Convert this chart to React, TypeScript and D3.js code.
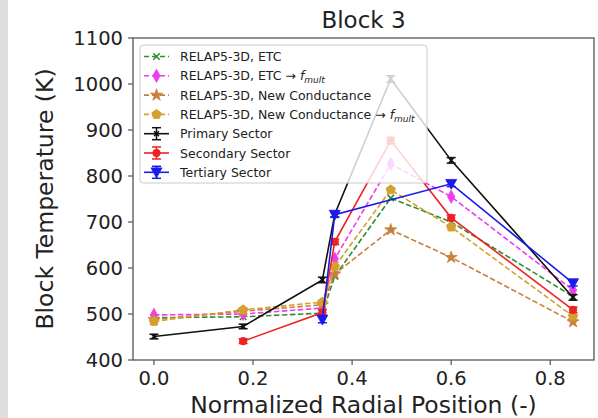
import * as d3 from 'd3'

// radial positions of the blocks (normalized)
const xPos = [0.0, 0.18, 0.34, 0.365, 0.478, 0.6, 0.846]

// RELAP5-3D variants (dashed)
const etc = [492, 494, 502, 582, 752, 700, 538]
const etcFmult = [498, 500, 513, 620, 826, 755, 552]
const newCond = [488, 506, 520, 587, 683, 623, 483]
const newCondFmult = [484, 509, 526, 603, 770, 689, 495]

// measured sectors (solid, with error bars)
const primary = [451, 473, 574, 717, 1011, 834, 536]
const primaryErr = [5, 5, 6, 6, 7, 6, 6]
const secondary = [null, 441, 503, 657, 877, 709, 509]
const secondaryErr = [0, 5, 6, 6, 7, 6, 6]
const tertiary = [null, null, 488, 716, null, 783, 567]
const tertiaryErr = [0, 0, 7, 6, 0, 6, 6]

const yTicks = [400, 500, 600, 700, 800, 900, 1000, 1100]
const xTicks = [0.0, 0.2, 0.4, 0.6, 0.8]

const W = 598
const H = 418
const m = { left: 133, right: 594, top: 38, bottom: 360 }
const FONT = 'DejaVu Sans, sans-serif'

const x = d3.scaleLinear().domain([-0.0423, 0.8883]).range([m.left, m.right])
const y = d3.scaleLinear().domain([400, 1100]).range([m.bottom, m.top])

type Marker = 'x' | 'thin_diamond' | 'star' | 'pentagon' | 'circle' | 'tri_down' | 'smallx'

function markerPath(kind: Marker, s: number): string {
  if (kind === 'star') return d3.symbol(d3.symbolStar, s * s * 0.45)()!
  if (kind === 'circle') return d3.symbol(d3.symbolCircle, s * s * 0.55)()!
  if (kind === 'tri_down') {
    const h = s * 0.5
    return `M${-h},${-h * 0.8}L${h},${-h * 0.8}L0,${h}Z`
  }
  if (kind === 'thin_diamond') {
    const h = s * 0.55
    return `M0,${-h}L${h * 0.55},0L0,${h}L${-h * 0.55},0Z`
  }
  if (kind === 'pentagon') {
    const r = s * 0.5
    const pts = d3.range(5).map((i) => {
      const a = -Math.PI / 2 + (i * 2 * Math.PI) / 5
      return [r * Math.cos(a), r * Math.sin(a)]
    })
    return 'M' + pts.map((p) => p.join(',')).join('L') + 'Z'
  }
  const h = kind === 'smallx' ? s * 0.3 : s * 0.4
  return `M${-h},${-h}L${h},${h}M${-h},${h}L${h},${-h}`
}

type Series = {
  label: string
  fmult?: boolean
  values: (number | null)[]
  err?: number[]
  color: string
  dashed: boolean
  marker: Marker
  size: number
}

const series: Series[] = [
  { label: 'RELAP5-3D, ETC', values: etc, color: '#2f8f2f', dashed: true, marker: 'x', size: 8 },
  { label: 'RELAP5-3D, ETC', fmult: true, values: etcFmult, color: '#f03cf0', dashed: true, marker: 'thin_diamond', size: 12 },
  { label: 'RELAP5-3D, New Conductance', values: newCond, color: '#c8803e', dashed: true, marker: 'star', size: 10 },
  { label: 'RELAP5-3D, New Conductance', fmult: true, values: newCondFmult, color: '#d4a030', dashed: true, marker: 'pentagon', size: 10 },
  { label: 'Primary Sector', values: primary, err: primaryErr, color: '#111111', dashed: false, marker: 'smallx', size: 8 },
  { label: 'Secondary Sector', values: secondary, err: secondaryErr, color: '#ee2222', dashed: false, marker: 'circle', size: 9 },
  { label: 'Tertiary Sector', values: tertiary, err: tertiaryErr, color: '#1a1aee', dashed: false, marker: 'tri_down', size: 11 },
]

function MarkerMark({ s, cx, cy }: { s: Series; cx: number; cy: number }) {
  const d = markerPath(s.marker, s.size)
  const stroked = s.marker === 'x' || s.marker === 'smallx'
  return (
    <path
      d={d}
      transform={`translate(${cx},${cy})`}
      fill={stroked ? 'none' : s.color}
      stroke={s.color}
      strokeWidth={stroked ? 1.6 : 0.8}
    />
  )
}

function ErrBar({ s, cx, v, e }: { s: Series; cx: number; v: number; e: number }) {
  const cap = 4.5
  const y0 = y(v - e)
  const y1 = y(v + e)
  return (
    <g stroke={s.color} strokeWidth={1.5}>
      <line x1={cx} x2={cx} y1={y0} y2={y1} />
      <line x1={cx - cap} x2={cx + cap} y1={y0} y2={y0} />
      <line x1={cx - cap} x2={cx + cap} y1={y1} y2={y1} />
    </g>
  )
}

function SeriesMarks({ s }: { s: Series }) {
  const pts = s.values
    .map((v, i) => ({ v, i }))
    .filter((p) => p.v !== null) as { v: number; i: number }[]
  const line = d3
    .line<{ v: number; i: number }>()
    .x((p) => x(xPos[p.i]))
    .y((p) => y(p.v))
  return (
    <g>
      <path
        d={line(pts)!}
        fill="none"
        stroke={s.color}
        strokeWidth={1.6}
        strokeDasharray={s.dashed ? '5.5,2.5' : undefined}
      />
      {pts.map((p) => (
        <g key={p.i}>
          {s.err && <ErrBar s={s} cx={x(xPos[p.i])} v={p.v} e={s.err[p.i]} />}
          <MarkerMark s={s} cx={x(xPos[p.i])} cy={y(p.v)} />
        </g>
      ))}
    </g>
  )
}

function Legend() {
  const lx = 140
  const ly = 45
  const lw = 287
  const lh = 138
  const row0 = 56.5
  const step = 19.3
  return (
    <g>
      <rect x={lx} y={ly} width={lw} height={lh} rx={3} fill="white" fillOpacity={0.8} stroke="#cccccc" strokeWidth={1} />
      {series.map((s, i) => {
        const cy = row0 + i * step
        const hx0 = 144
        const hx1 = 169
        const mx = (hx0 + hx1) / 2
        return (
          <g key={i}>
            <line
              x1={hx0}
              x2={hx1}
              y1={cy}
              y2={cy}
              stroke={s.color}
              strokeWidth={1.6}
              strokeDasharray={s.dashed ? '5,3' : undefined}
            />
            {s.err && (
              <g stroke={s.color} strokeWidth={1.5}>
                <line x1={mx} x2={mx} y1={cy - 6} y2={cy + 6} />
                <line x1={mx - 4.5} x2={mx + 4.5} y1={cy - 6} y2={cy - 6} />
                <line x1={mx - 4.5} x2={mx + 4.5} y1={cy + 6} y2={cy + 6} />
              </g>
            )}
            <MarkerMark s={s} cx={mx} cy={cy} />
            <text x={180} y={cy + 4.5} fontSize={12.5} fill="#222" fontFamily={FONT}>
              {s.label}
              {s.fmult && (
                <>
                  <tspan> → </tspan>
                  <tspan fontStyle="italic">f</tspan>
                  <tspan fontStyle="italic" fontSize={9} dy={3}>mult</tspan>
                </>
              )}
            </text>
          </g>
        )
      })}
    </g>
  )
}

export default function App() {
  return (
    <svg
      width={W}
      height={H}
      style={{ position: 'absolute', left: 0, top: 0, background: 'white', display: 'block' }}
      fontFamily={FONT}
    >
      <rect x={0} y={0} width={W} height={H} fill="white" />
      <rect x={0} y={0} width={8} height={H} fill="#dedede" />

      <text x={(m.left + m.right) / 2} y={28} textAnchor="middle" fontSize={23} fill="#222">
        Block 3
      </text>

      <clipPath id="plot">
        <rect x={m.left} y={m.top} width={m.right - m.left} height={m.bottom - m.top} />
      </clipPath>
      <g clipPath="url(#plot)">
        {series.map((s, i) => (
          <SeriesMarks key={i} s={s} />
        ))}
      </g>

      <Legend />

      {/* axes frame */}
      <rect
        x={m.left}
        y={m.top}
        width={m.right - m.left}
        height={m.bottom - m.top}
        fill="none"
        stroke="#555"
        strokeWidth={1.3}
      />

      {yTicks.map((t) => (
        <g key={t}>
          <line x1={m.left - 5} x2={m.left} y1={y(t)} y2={y(t)} stroke="#555" strokeWidth={1.2} />
          <text x={m.left - 10} y={y(t) + 7} textAnchor="end" fontSize={19.5} fill="#222">
            {t}
          </text>
        </g>
      ))}
      {xTicks.map((t) => (
        <g key={t}>
          <line x1={x(t)} x2={x(t)} y1={m.bottom} y2={m.bottom + 5} stroke="#555" strokeWidth={1.2} />
          <text x={x(t)} y={m.bottom + 25} textAnchor="middle" fontSize={19.5} fill="#222">
            {t.toFixed(1)}
          </text>
        </g>
      ))}

      <text
        transform={`translate(53,${(m.top + m.bottom) / 2}) rotate(-90)`}
        textAnchor="middle"
        fontSize={23.5}
        fill="#222"
      >
        Block Temperature (K)
      </text>
      <text x={(m.left + m.right) / 2} y={413} textAnchor="middle" fontSize={23.5} fill="#222">
        Normalized Radial Position (-)
      </text>
    </svg>
  )
}
